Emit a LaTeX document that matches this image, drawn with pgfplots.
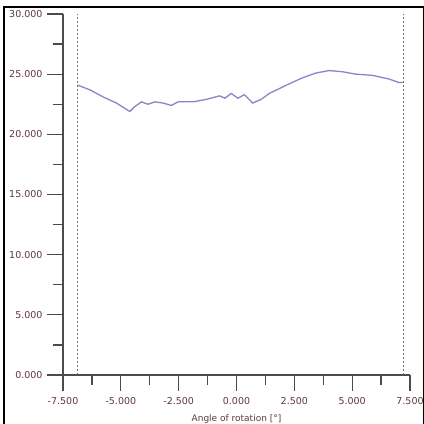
\documentclass[border=0pt]{standalone}
\usepackage{pgfplots}
\pgfplotsset{compat=1.18}
\usepackage{fontspec}
\setmainfont{DejaVu Sans}
\definecolor{lbl}{RGB}{95,55,65}
\definecolor{axc}{RGB}{75,75,75}
\definecolor{curve}{RGB}{135,135,200}
\begin{document}
\begin{tikzpicture}
\useasboundingbox (0pt,0pt) rectangle (424pt,424pt);
\fill[white] (0pt,0pt) rectangle (424pt,424pt);
\draw[black, line width=1.3pt] (4pt,-2pt) rectangle (423.3pt,417pt);
\begin{axis}[
  at={(63pt,49pt)}, anchor=south west,
  scale only axis, width=347pt, height=361pt,
  xmin=-7.5, xmax=7.5, ymin=0, ymax=30,
  axis lines=left, axis line style={axc, line width=1.5pt, -},
  xtick={-7.5,-5,-2.5,0,2.5,5,7.5},
  ytick={0,5,10,15,20,25,30},
  minor tick num=1,
  tick align=outside,
  major tick length=16pt, minor tick length=10pt,
  tick style={axc, line width=1.3pt},
  ticklabel style={font=\fontsize{9.5}{11}\selectfont, text=lbl},
  xticklabel style={yshift=-3pt},
  yticklabel style={xshift=-1pt},
  /pgf/number format/.cd, fixed, fixed zerofill, precision=3, 1000 sep={}, assume math mode=true,
  /pgfplots/.cd,
  xlabel={Angle of rotation [°]},
  xlabel style={font=\fontsize{9}{10}\selectfont, text=lbl, yshift=-3pt},
  clip=false,
]
\addplot[axc!80, line width=0.7pt, dash pattern=on 2pt off 2pt] coordinates {(-6.9,0) (-6.9,30)};
\addplot[axc!80, line width=0.7pt, dash pattern=on 2pt off 2pt] coordinates {(7.2,0) (7.2,30)};
\addplot[curve, line width=1.3pt] coordinates {
(-6.88,24.1) (-6.34,23.7) (-5.76,23.1) (-5.19,22.6) (-4.61,21.9) (-4.40,22.3)
(-4.11,22.7) (-3.82,22.5) (-3.53,22.7) (-3.18,22.6) (-2.81,22.4) (-2.53,22.7)
(-2.24,22.7) (-1.88,22.7) (-1.31,22.9) (-0.73,23.2) (-0.50,23.0) (-0.23,23.4)
(0.06,23.0) (0.34,23.3) (0.70,22.6) (1.06,22.9) (1.42,23.4) (1.85,23.8)
(2.28,24.2) (2.86,24.7) (3.44,25.1) (4.01,25.3) (4.58,25.2) (5.16,25.0)
(5.88,24.9) (6.59,24.6) (7.03,24.3) (7.19,24.3)
};
\end{axis}
\end{tikzpicture}
\end{document}
